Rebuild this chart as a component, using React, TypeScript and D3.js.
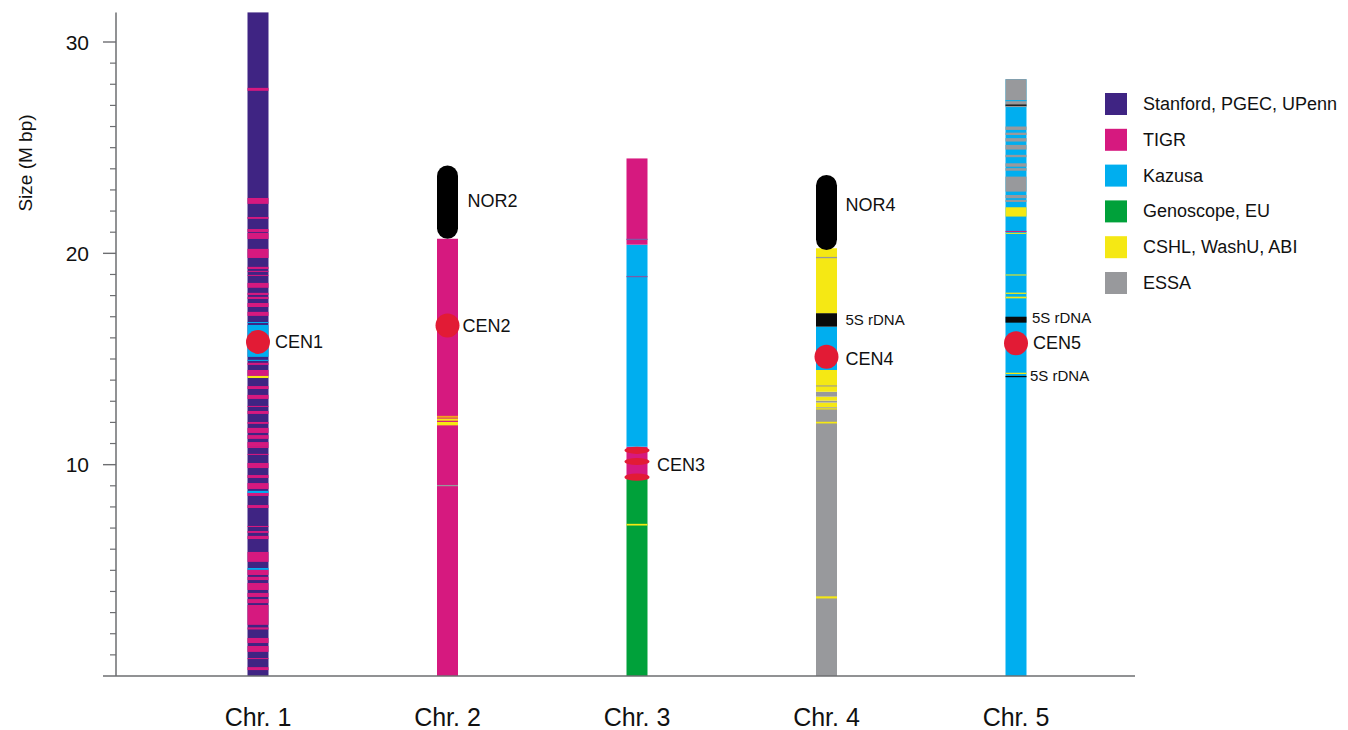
import React from "react";
import * as d3 from "d3";

type Seg = [number, number, string];

// ---------- data ----------
const sourceNames = ["Stanford, PGEC, UPenn", "TIGR", "Kazusa", "Genoscope, EU", "CSHL, WashU, ABI", "ESSA"];
const sourceKeys = ["S", "T", "K", "G", "C", "E"];
const sourceColors = ["#3f2483", "#d6197f", "#00aeef", "#00a13a", "#f5e814", "#98999c"];
const extraKeys = ["R", "O", "P"]; // rDNA (black), orange line, purple line
const extraColors = ["#0a0a0a", "#f4a21d", "#7b5ba6"];

const chromosomes = ["Chr. 1", "Chr. 2", "Chr. 3", "Chr. 4", "Chr. 5"];
const yMajorTicks = [10, 20, 30];
const axisTop = 31.4;

// [start Mb, end Mb, source]
const chr1Segments: Seg[] = [
  [0, 31.4, "S"],
  [27.69, 27.83, "T"], [22.34, 22.62, "T"], [21.63, 21.72, "T"], [21.01, 21.15, "T"],
  [20.68, 20.97, "T"], [19.78, 20.21, "T"], [19.26, 19.36, "T"], [19.12, 19.17, "T"],
  [18.93, 18.98, "T"], [18.37, 18.6, "T"], [18.03, 18.13, "T"], [17.84, 17.94, "T"],
  [17.46, 17.65, "T"], [17.04, 17.23, "T"], [16.71, 16.75, "K"], [15.1, 16.61, "K"],
  [14.91, 14.96, "K"], [14.72, 14.82, "T"], [14.2, 14.48, "T"],
  [14.1, 14.2, "C"], [13.58, 13.72, "T"], [13.11, 13.3, "T"], [12.73, 12.78, "T"],
  [12.4, 12.54, "T"], [11.93, 12.02, "T"], [11.5, 11.74, "T"], [11.22, 11.4, "T"],
  [10.88, 11.07, "T"], [10.79, 10.88, "T"], [10.46, 10.51, "T"], [9.84, 10.08, "T"],
  [9.37, 9.51, "T"], [8.85, 9.13, "T"], [8.66, 8.76, "K"], [8.52, 8.66, "T"],
  [7.95, 8.09, "T"],
  [7.05, 7.1, "T"], [6.77, 6.86, "T"], [6.48, 6.63, "T"], [5.4, 5.87, "T"], [5.02, 5.11, "K"],
  [4.78, 5.02, "T"], [4.54, 4.69, "T"], [4.07, 4.4, "T"], [3.74, 3.93, "T"], [3.45, 3.64, "T"],
  [2.42, 3.36, "T"], [2.2, 2.3, "T"], [1.56, 1.8, "T"], [1.14, 1.42, "T"], [0.8, 0.85, "T"],
  [0.28, 0.42, "T"],
];
const chr2Segments: Seg[] = [
  [0, 20.69, "T"], [12.22, 12.31, "O"], [12.08, 12.18, "C"], [11.86, 12.02, "C"], [8.98, 9.04, "E"],
];
const chr3Segments: Seg[] = [
  [0, 9.33, "G"], [9.33, 10.85, "T"], [10.85, 20.41, "K"], [20.41, 24.49, "T"],
  [20.63, 20.69, "P"], [18.87, 18.93, "P"], [7.12, 7.2, "C"],
];
const chr4Segments: Seg[] = [
  [0, 12.72, "E"], [12.72, 12.94, "C"], [12.94, 13.03, "E"], [13.03, 13.22, "C"],
  [13.22, 13.45, "E"], [13.45, 14.48, "C"], [13.7, 13.75, "E"], [14.48, 16.53, "K"],
  [16.53, 17.17, "R"], [17.17, 20.24, "C"], [19.77, 19.83, "E"], [12.61, 12.67, "C"],
  [11.95, 12.03, "C"], [3.67, 3.77, "C"],
];
const chr5Segments: Seg[] = [
  [0, 28.24, "K"], [26.92, 28.24, "E"], [27.2, 27.25, "K"], [26.98, 27.04, "R"],
  [25.84, 26.0, "E"], [25.6, 25.71, "E"], [25.29, 25.45, "E"], [24.91, 25.13, "E"],
  [24.55, 24.66, "E"], [24.1, 24.26, "E"], [23.91, 24.03, "E"], [22.92, 23.63, "E"],
  [22.61, 22.76, "E"], [22.43, 22.53, "E"], [21.74, 22.18, "C"], [21.01, 21.06, "T"],
  [20.92, 20.97, "C"], [18.95, 19.0, "C"], [18.08, 18.14, "C"], [17.87, 17.95, "C"],
  [16.72, 17.0, "R"], [14.29, 14.35, "C"], [14.14, 14.2, "R"],
];
const chromosomeSegments = [chr1Segments, chr2Segments, chr3Segments, chr4Segments, chr5Segments];

// NOR regions: [chromosome index, start Mb, end Mb]
const norRegions: [number, number, number][] = [[1, 20.69, 24.16], [3, 20.16, 23.71]];
// centromere positions (Mb)
const centromeres: [number, number][] = [[0, 15.81], [1, 16.58], [3, 15.11], [4, 15.75]];
const cen3Marks = [10.68, 10.15, 9.41];

// annotations: [chromosome index, Mb, text]
const annotations: [number, number, string][] = [
  [0, 15.81, "CEN1"],
  [1, 22.5, "NOR2"],
  [1, 16.58, "CEN2"],
  [2, 10.0, "CEN3"],
  [3, 22.3, "NOR4"],
  [3, 16.85, "5S rDNA"],
  [3, 15.0, "CEN4"],
  [4, 16.95, "5S rDNA"],
  [4, 15.75, "CEN5"],
  [4, 14.2, "5S rDNA"],
];

// ---------- drawing ----------
const annotationDx = [17, 20, 15, 20, 19, 19, 19, 16, 17, 14];
const FONT = "'Liberation Sans', Arial, sans-serif";

function colorOf(k: string): string {
  const i = sourceKeys.indexOf(k);
  if (i >= 0) return sourceColors[i];
  const j = extraKeys.indexOf(k);
  return j >= 0 ? extraColors[j] : "#000";
}

export default function App() {
  const W = 1348;
  const H = 730;
  const y = d3.scaleLinear().domain([0, 30]).range([676, 42]);
  const x = d3.scalePoint<string>().domain(chromosomes).range([258, 1016]);
  const barW = 21;
  const minorTicks = y.ticks(30).filter((t) => t > 0 && !yMajorTicks.includes(t));
  const axisX = 116;
  const legendY = d3.scalePoint<string>().domain(sourceNames).range([104, 283]);

  return (
    <svg
      width={W}
      height={H}
      style={{ position: "absolute", left: 0, top: 0, display: "block", background: "#fff" }}
      fontFamily={FONT}
    >
      {/* chromosome bars */}
      {chromosomeSegments.map((segs, ci) => {
        const cx = x(chromosomes[ci])!;
        return (
          <g key={"c" + ci}>
            {segs.map((s, si) => (
              <rect
                key={si}
                x={cx - barW / 2}
                y={y(s[1])}
                width={barW}
                height={Math.max(1, y(s[0]) - y(s[1]))}
                fill={colorOf(s[2])}
              />
            ))}
          </g>
        );
      })}

      {/* NOR regions */}
      {norRegions.map((n, i) => {
        const cx = x(chromosomes[n[0]])!;
        return (
          <rect
            key={"n" + i}
            x={cx - barW / 2}
            y={y(n[2])}
            width={barW}
            height={y(n[1]) - y(n[2])}
            rx={barW / 2}
            ry={barW / 2}
            fill="#000"
          />
        );
      })}

      {/* centromeres */}
      {centromeres.map((c, i) => (
        <circle key={"cen" + i} cx={x(chromosomes[c[0]])!} cy={y(c[1])} r={12} fill="#e21b35" />
      ))}
      {cen3Marks.map((v, i) => (
        <ellipse key={"e" + i} cx={x(chromosomes[2])!} cy={y(v)} rx={12.5} ry={3.6} fill="#e21b35" />
      ))}

      {/* annotations */}
      {annotations.map((a, i) => (
        <text
          key={"a" + i}
          x={x(chromosomes[a[0]])! + annotationDx[i]}
          y={y(a[1])}
          dominantBaseline="central"
          fontSize={a[2].startsWith("5S") ? 15 : 18}
          fill="#111"
        >
          {a[2]}
        </text>
      ))}

      {/* y axis */}
      <line x1={axisX} x2={axisX} y1={y(axisTop)} y2={y(0)} stroke="#6d6e71" strokeWidth={1.5} />
      {minorTicks.map((t) => (
        <line key={"mt" + t} x1={axisX - 6} x2={axisX} y1={y(t)} y2={y(t)} stroke="#6d6e71" strokeWidth={1.2} />
      ))}
      {yMajorTicks.map((t) => (
        <g key={"Mt" + t}>
          <line x1={axisX - 13} x2={axisX} y1={y(t)} y2={y(t)} stroke="#6d6e71" strokeWidth={1.4} />
          <text x={89} y={y(t)} textAnchor="end" dominantBaseline="central" fontSize={21} fill="#111">
            {t}
          </text>
        </g>
      ))}
      <text
        transform={`translate(25,${163}) rotate(-90)`}
        textAnchor="middle"
        dominantBaseline="central"
        fontSize={19}
        fill="#111"
      >
        Size (M bp)
      </text>

      {/* baseline */}
      <line x1={103} x2={1135} y1={y(0)} y2={y(0)} stroke="#6d6e71" strokeWidth={1.5} />

      {/* x labels */}
      {chromosomes.map((c) => (
        <text key={"x" + c} x={x(c)!} y={726} textAnchor="middle" fontSize={25} fill="#111">
          {c}
        </text>
      ))}

      {/* legend */}
      {sourceNames.map((n, i) => (
        <g key={"l" + i}>
          <rect x={1105} y={legendY(n)! - 11} width={22} height={22} fill={sourceColors[i]} />
          <text x={1143} y={legendY(n)!} dominantBaseline="central" fontSize={18} fill="#111">
            {n}
          </text>
        </g>
      ))}
    </svg>
  );
}
